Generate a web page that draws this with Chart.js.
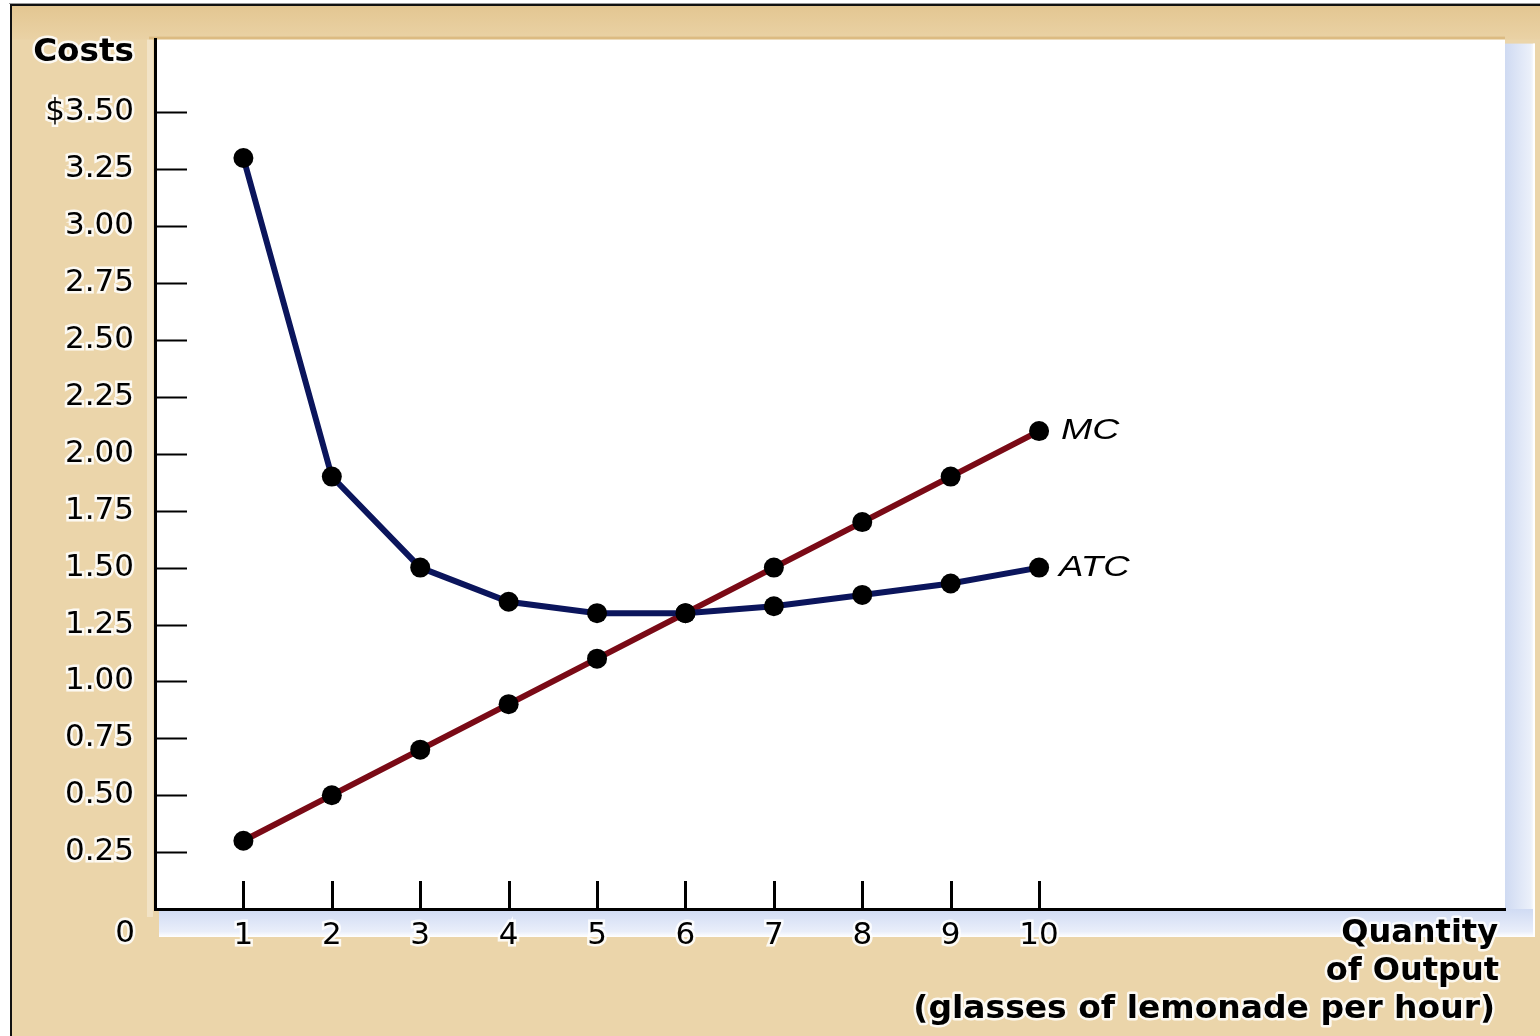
<!DOCTYPE html>
<html>
<head>
<meta charset="utf-8">
<title>Costs of lemonade production</title>
<script src="https://cdn.jsdelivr.net/npm/chart.js@4.4.1/dist/chart.umd.min.js"></script>
<style>
  html, body { margin: 0; padding: 0; background: #ffffff; }
  #wrap { width: 1540px; height: 1036px; }
</style>
</head>
<body>
<div id="wrap"><canvas id="costChart" width="1540" height="1036"></canvas></div>
<script>
// Output quantities (glasses of lemonade per hour)
const quantities = [1, 2, 3, 4, 5, 6, 7, 8, 9, 10];
// Average total cost per glass
const atcValues = [3.30, 1.90, 1.50, 1.35, 1.30, 1.30, 1.33, 1.38, 1.43, 1.50];
// Marginal cost of each additional glass
const mcValues = [0.30, 0.50, 0.70, 0.90, 1.10, 1.30, 1.50, 1.70, 1.90, 2.10];

// Axis ticks and labels
const costTicks = [0.25, 0.50, 0.75, 1.00, 1.25, 1.50, 1.75, 2.00, 2.25, 2.50, 2.75, 3.00, 3.25, 3.50];
const quantityTicks = [1, 2, 3, 4, 5, 6, 7, 8, 9, 10];
const yAxisTitle = 'Costs';
const xAxisTitle = ['Quantity', 'of Output', '(glasses of lemonade per hour)'];
const seriesNames = ['ATC', 'MC'];

const toPoints = (vals) => quantities.map((q, i) => ({ x: q, y: vals[i] }));

// Helper: text with a soft white halo, optionally stretched horizontally
function haloText(ctx, text, x, y, font, align, stretch) {
  ctx.save();
  ctx.font = font;
  ctx.textAlign = align;
  ctx.textBaseline = 'middle';
  ctx.translate(x, y);
  ctx.scale(stretch || 1, 1);
  ctx.lineJoin = 'round';
  ctx.strokeStyle = 'rgba(255,255,255,0.85)';
  ctx.lineWidth = 5;
  ctx.strokeText(text, 0, 0);
  ctx.fillStyle = '#000000';
  ctx.fillText(text, 0, 0);
  ctx.restore();
}

const framePlugin = {
  id: 'frame',
  beforeDraw(chart) {
    const ctx = chart.ctx;
    const a = chart.chartArea;
    ctx.save();
    ctx.fillStyle = '#ffffff';
    ctx.fillRect(0, 0, chart.width, chart.height);

    // tan panel
    ctx.fillStyle = '#ebd5aa';
    ctx.fillRect(11, 5, chart.width - 11, chart.height - 5);
    const topGrad = ctx.createLinearGradient(0, 5, 0, a.top);
    topGrad.addColorStop(0, '#e3c691');
    topGrad.addColorStop(1, '#ead2a5');
    ctx.fillStyle = topGrad;
    ctx.fillRect(11, 5, chart.width - 11, a.top - 5);

    // panel edges
    ctx.fillStyle = '#9a9a9a';
    ctx.fillRect(9, 3, chart.width - 9, 1);
    ctx.fillStyle = '#111111';
    ctx.fillRect(10, 4, chart.width - 10, 2);
    ctx.fillRect(10, 4, 2, chart.height - 4);

    // soft blue shadow on the right and bottom of the plot
    const rightGrad = ctx.createLinearGradient(a.right, 0, a.right + 30, 0);
    rightGrad.addColorStop(0, '#cfdaf2');
    rightGrad.addColorStop(0.85, '#ebf0fa');
    rightGrad.addColorStop(1, '#ffffff');
    ctx.fillStyle = rightGrad;
    ctx.fillRect(a.right, a.top + 4, 30, a.bottom - a.top + 24);

    const botGrad = ctx.createLinearGradient(0, a.bottom, 0, a.bottom + 28);
    botGrad.addColorStop(0, '#d0dbf3');
    botGrad.addColorStop(0.8, '#e9eefa');
    botGrad.addColorStop(1, '#ffffff');
    ctx.fillStyle = botGrad;
    ctx.fillRect(a.left + 4, a.bottom, a.right - a.left + 26, 28);
    ctx.fillStyle = '#ffffff';
    ctx.fillRect(a.right + 28, a.top + 4, 2, a.bottom - a.top + 24);

    // plot surface
    ctx.fillStyle = '#dcbb82';
    ctx.fillRect(a.left - 6, a.top - 3, a.right - a.left + 6, 3);
    ctx.fillStyle = '#f2e3c6';
    ctx.fillRect(a.left - 8, a.top, 6, a.bottom - a.top + 8);
    ctx.fillStyle = '#ffffff';
    ctx.fillRect(a.left, a.top, a.right - a.left, a.bottom - a.top);
    ctx.restore();
  },
  afterDraw(chart) {
    const ctx = chart.ctx;
    const a = chart.chartArea;
    const xs = chart.scales.x;
    const ys = chart.scales.y;
    ctx.save();
    // inward tick marks
    ctx.strokeStyle = '#000000';
    ctx.lineWidth = 2;
    costTicks.forEach(v => {
      const y = Math.round(ys.getPixelForValue(v)) + 0.5;
      ctx.beginPath();
      ctx.moveTo(a.left, y);
      ctx.lineTo(a.left + 32, y);
      ctx.stroke();
    });
    ctx.lineWidth = 3;
    quantityTicks.forEach(v => {
      const x = Math.round(xs.getPixelForValue(v)) + 0.5;
      ctx.beginPath();
      ctx.moveTo(x, a.bottom - 28);
      ctx.lineTo(x, a.bottom);
      ctx.stroke();
    });
    ctx.restore();

    // origin label
    haloText(ctx, '0', a.left - 20, a.bottom + 25, '31px "DejaVu Sans"', 'right', 1);

    // axis titles
    haloText(ctx, yAxisTitle, a.left - 21, 53, 'bold 32px "DejaVu Sans"', 'right', 1.02);
    const titleRight = chart.width - 42;
    haloText(ctx, xAxisTitle[0], titleRight, 934, 'bold 32px "DejaVu Sans"', 'right', 1);
    haloText(ctx, xAxisTitle[1], titleRight + 1, 972, 'bold 32px "DejaVu Sans"', 'right', 1);
    haloText(ctx, xAxisTitle[2], titleRight - 3, 1010, 'bold 32px "DejaVu Sans"', 'right', 1.03);

    // series labels beside the last points
    const last = quantities.length - 1;
    const lx = xs.getPixelForValue(quantities[last]) + 20;
    haloText(ctx, seriesNames[0], lx, ys.getPixelForValue(atcValues[last]), 'italic 30px "Liberation Sans"', 'left', 1.22);
    haloText(ctx, seriesNames[1], lx + 2, ys.getPixelForValue(mcValues[last]), 'italic 30px "Liberation Sans"', 'left', 1.25);
  }
};

const tickFont = { family: 'DejaVu Sans', size: 31, weight: 'normal' };

new Chart(document.getElementById('costChart'), {
  type: 'line',
  data: {
    datasets: [
      {
        label: seriesNames[0],
        data: toPoints(atcValues),
        borderColor: '#0b155c',
        borderWidth: 6,
        pointRadius: 10,
        pointBackgroundColor: '#000000',
        pointBorderWidth: 0,
        tension: 0
      },
      {
        label: seriesNames[1],
        data: toPoints(mcValues),
        borderColor: '#7a0a16',
        borderWidth: 6,
        pointRadius: 10,
        pointBackgroundColor: '#000000',
        pointBorderWidth: 0,
        tension: 0
      }
    ]
  },
  options: {
    responsive: false,
    animation: false,
    devicePixelRatio: 1,
    layout: { padding: { left: 0, top: 35, right: 35, bottom: 0 } },
    plugins: {
      legend: { display: false },
      tooltip: { enabled: false }
    },
    scales: {
      x: {
        type: 'linear',
        min: 0,
        max: 15.27,
        afterBuildTicks: (scale) => { scale.ticks = quantityTicks.map(v => ({ value: v })); },
        afterFit: (scale) => { scale.height = 127; },
        grid: { display: true, drawOnChartArea: false, drawTicks: false },
        border: { display: true, color: '#000000', width: 3 },
        ticks: {
          autoSkip: false,
          maxRotation: 0,
          padding: 8,
          color: '#000000',
          font: tickFont,
          textStrokeColor: 'rgba(255,255,255,0.85)',
          textStrokeWidth: 5,
          callback: (v) => String(v)
        }
      },
      y: {
        type: 'linear',
        min: 0,
        max: 3.82,
        afterBuildTicks: (scale) => { scale.ticks = costTicks.map(v => ({ value: v })); },
        afterFit: (scale) => { scale.width = 155; },
        grid: { display: true, drawOnChartArea: false, drawTicks: false },
        border: { display: true, color: '#000000', width: 3 },
        ticks: {
          autoSkip: false,
          padding: 21,
          color: '#000000',
          font: tickFont,
          textStrokeColor: 'rgba(255,255,255,0.85)',
          textStrokeWidth: 5,
          callback: (v) => (v === 3.5 ? '$3.50' : Number(v).toFixed(2))
        }
      }
    }
  },
  plugins: [framePlugin]
});
</script>
</body>
</html>
